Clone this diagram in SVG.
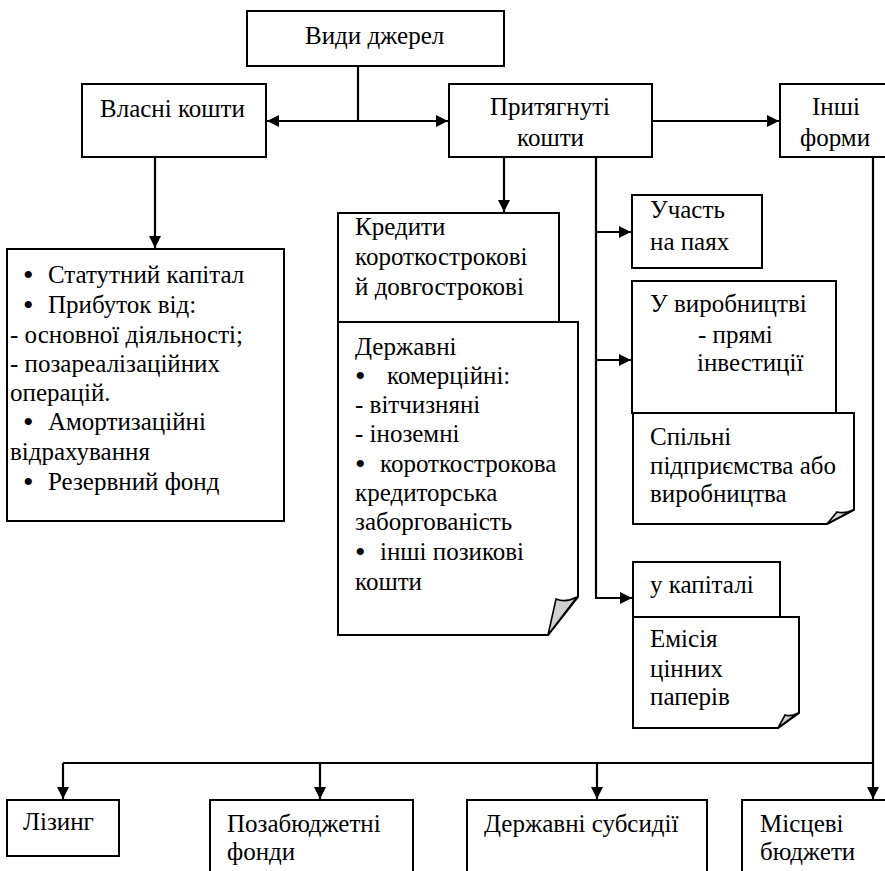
<svg xmlns="http://www.w3.org/2000/svg" width="885" height="871" viewBox="0 0 885 871">
<style>
.b{fill:#fff;stroke:#000;stroke-width:2}
text{font-family:'Liberation Serif','Times New Roman','DejaVu Serif',serif;font-size:25px;fill:#000}
.c{fill:none;stroke:#000;stroke-width:2.2}
.f{fill:#d0d0d0;stroke:#000;stroke-width:1.6}
.d{font-size:30px}
</style>
<defs>
<marker id="a" viewBox="0 0 12 12" refX="12" refY="6" markerWidth="12" markerHeight="12" markerUnits="userSpaceOnUse" orient="auto">
<path d="M0,0 L12,6 L0,12 Z" fill="#000"/>
</marker>
</defs>
<rect width="885" height="871" fill="#fff"/>
<g id="connectors">
<path class="c" d="M358,66 V121"/>
<path class="c" d="M358,121 H267" marker-end="url(#a)"/>
<path class="c" d="M358,121 H448" marker-end="url(#a)"/>
<path class="c" d="M652,121 H779" marker-end="url(#a)"/>
<path class="c" d="M155,157 V248" marker-end="url(#a)"/>
<path class="c" d="M504,157 V212" marker-end="url(#a)"/>
<path class="c" d="M596,157 V598 H632" marker-end="url(#a)"/>
<path class="c" d="M596,232 H631" marker-end="url(#a)"/>
<path class="c" d="M596,360 H631" marker-end="url(#a)"/>
<path class="c" d="M873,157 V799" marker-end="url(#a)"/>
<path class="c" d="M63,763 H873"/>
<path class="c" d="M63,763 V799" marker-end="url(#a)"/>
<path class="c" d="M320,763 V799" marker-end="url(#a)"/>
<path class="c" d="M597,763 V799" marker-end="url(#a)"/>
</g>
<g id="vydy">
<rect class="b" x="247" y="11" width="257" height="55"/>
<text x="305" y="44">Види джерел</text>
</g>
<g id="vlasni">
<rect class="b" x="82" y="84" width="184" height="73"/>
<text x="100" y="117">Власні кошти</text>
</g>
<g id="prytyahnuti">
<rect class="b" x="449" y="84" width="203" height="73"/>
<text x="490" y="115">Притягнуті</text>
<text x="517" y="146">кошти</text>
</g>
<g id="inshi">
<rect class="b" x="780" y="84" width="120" height="73"/>
<text x="812" y="115">Інші</text>
<text x="800" y="146">форми</text>
</g>
<g id="vlasni-list">
<rect class="b" x="7" y="249" width="277" height="272"/>
<text><tspan class="d" x="23" y="285">•</tspan><tspan x="48" y="283">Статутний капітал</tspan></text>
<text><tspan class="d" x="23" y="315">•</tspan><tspan x="48" y="313">Прибуток від:</tspan></text>
<text x="10" y="343">- основної діяльності;</text>
<text x="10" y="372">- позареалізаційних</text>
<text x="10" y="401">операцій.</text>
<text><tspan class="d" x="23" y="432">•</tspan><tspan x="48" y="430">Амортизаційні</tspan></text>
<text x="10" y="460">відрахування</text>
<text><tspan class="d" x="23" y="492">•</tspan><tspan x="48" y="490">Резервний фонд</tspan></text>
</g>
<g id="kredyty">
<rect class="b" x="338" y="213" width="221" height="109"/>
<text x="355" y="235">Кредити</text>
<text x="355" y="265">короткострокові</text>
<text x="355" y="295">й довгострокові</text>
</g>
<g id="derzhavni">
<path class="b" d="M338,322 H578 V597 L548,635 H338 Z"/>
<path class="f" d="M548,635 L577,597 Q566,603 556,599 Z"/>
<text x="355" y="355">Державні</text>
<text><tspan class="d" x="355" y="386">•</tspan><tspan x="387" y="384">комерційні:</tspan></text>
<text x="355" y="413">- вітчизняні</text>
<text x="355" y="442">- іноземні</text>
<text><tspan class="d" x="355" y="474">•</tspan><tspan x="380" y="472">короткострокова</tspan></text>
<text x="355" y="501">кредиторська</text>
<text x="355" y="530">заборгованість</text>
<text><tspan class="d" x="355" y="562">•</tspan><tspan x="380" y="560">інші позикові</tspan></text>
<text x="355" y="590">кошти</text>
</g>
<g id="uchast">
<rect class="b" x="632" y="195" width="130" height="73"/>
<text x="650" y="218">Участь</text>
<text x="650" y="250">на паях</text>
</g>
<g id="vyrobnytstvi">
<rect class="b" x="632" y="281" width="204" height="132"/>
<text x="650" y="312">У виробництві</text>
<text x="698" y="343">- прямі</text>
<text x="697" y="371">інвестиції</text>
</g>
<g id="spilni">
<path class="b" d="M633,413 H854 V510 L827,524 H633 Z"/>
<path class="f" d="M827,524 L853,510 Q845,514 837,512 Z"/>
<text x="650" y="445">Спільні</text>
<text x="650" y="474">підприємства або</text>
<text x="650" y="502">виробництва</text>
</g>
<g id="kapitali">
<rect class="b" x="633" y="562" width="147" height="55"/>
<text x="650" y="593">у капіталі</text>
</g>
<g id="emisiya">
<path class="b" d="M633,617 H799 V713 L778,728 H633 Z"/>
<path class="f" d="M778,728 L798,713 Q791,717 785,715 Z"/>
<text x="650" y="647">Емісія</text>
<text x="650" y="677">цінних</text>
<text x="650" y="705">паперів</text>
</g>
<g id="lizynh">
<rect class="b" x="7" y="800" width="112" height="56"/>
<text x="23" y="830">Лізинг</text>
</g>
<g id="pozabyudzhetni">
<rect class="b" x="210" y="800" width="203" height="90"/>
<text x="227" y="832">Позабюджетні</text>
<text x="227" y="860">фонди</text>
</g>
<g id="subsydii">
<rect class="b" x="467" y="800" width="240" height="90"/>
<text x="484" y="832">Державні субсидії</text>
</g>
<g id="mistsevi">
<rect class="b" x="742" y="800" width="160" height="90"/>
<text x="760" y="832">Місцеві</text>
<text x="760" y="860">бюджети</text>
</g>
</svg>
